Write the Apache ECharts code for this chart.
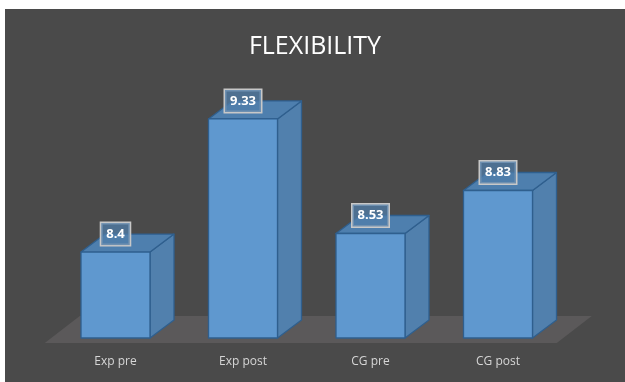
<!DOCTYPE html>
<html><head><meta charset="utf-8">
<script src="https://cdn.jsdelivr.net/npm/echarts@6/dist/echarts.min.js"></script>
<style>
html,body{margin:0;padding:0;background:#ffffff;width:625px;height:382px;overflow:hidden;}
#c{position:absolute;left:5px;top:9px;width:620px;height:373px;}
</style></head>
<body><div id="c"></div>
<script>
const categories = ['Exp pre', 'Exp post', 'CG pre', 'CG post'];
const values = [8.4, 9.33, 8.53, 8.83];
const labels = ['8.4', '9.33', '8.53', '8.83'];

const chart = echarts.init(document.getElementById('c'));
const DX = 24, DY = 18, BW = 69;

function renderFloor(params, api) {
  const cs = params.coordSys;
  const l = cs.x, r = cs.x + cs.width, b = cs.y + cs.height;
  return {
    type: 'polygon', silent: true,
    shape: { points: [[l - 7, b + 5], [l + 28, b - 22], [r + 30, b - 22], [r - 5, b + 5]] },
    style: { fill: '#5b595a' }
  };
}

function renderBar(params, api) {
  const idx = api.value(0);
  const top = api.coord([idx, api.value(1)]);
  const base = api.coord([idx, api.value(2)]);
  const x0 = top[0] - BW / 2, x1 = top[0] + BW / 2;
  const yt = top[1], yb = base[1];
  const edge = { stroke: '#2f5f8e', lineWidth: 1.3, lineJoin: 'round' };
  return {
    type: 'group',
    children: [
      { type: 'polygon', shape: { points: [[x1, yt], [x1 + DX, yt - DY], [x1 + DX, yb - DY], [x1, yb]] },
        style: Object.assign({ fill: '#5180ad' }, edge) },
      { type: 'polygon', shape: { points: [[x0, yt], [x1, yt], [x1 + DX, yt - DY], [x0 + DX, yt - DY]] },
        style: Object.assign({ fill: '#4e7fae' }, edge) },
      { type: 'rect', shape: { x: x0, y: yt, width: BW, height: yb - yt },
        style: Object.assign({ fill: '#5f98cf' }, edge) },
      { type: 'text', x: top[0], y: yt - 18,
        style: { text: labels[params.dataIndex], fill: '#ffffff', font: 'bold 13px "Open Sans", sans-serif',
          align: 'center', verticalAlign: 'middle',
          backgroundColor: 'rgba(80,125,170,0.75)', borderColor: '#c8c8c8', borderWidth: 1.5,
          padding: [5, 5, 4, 5] } }
    ]
  };
}

chart.setOption({
  backgroundColor: '#4a4a4a',
  animation: false,
  title: {
    text: 'FLEXIBILITY', left: 'center', top: 20,
    textStyle: { color: '#ffffff', fontSize: 25, fontWeight: 'normal', fontFamily: '"Open Sans", sans-serif' }
  },
  grid: { left: 46.75, right: 63.25, top: 14, bottom: 44 },
  xAxis: {
    type: 'category', data: categories,
    axisLine: { show: false }, axisTick: { show: false },
    axisLabel: { color: '#d6d6d6', fontSize: 12, margin: 18, fontFamily: '"Open Sans", sans-serif' }
  },
  yAxis: { type: 'value', min: 7.8, max: 10, show: false, splitLine: { show: false } },
  series: [
    { type: 'custom', renderItem: renderFloor, data: [[0]], silent: true, z: 1 },
    { type: 'custom', renderItem: renderBar, z: 2,
      encode: { x: 0, y: 1 },
      data: values.map((v, i) => [i, v, 7.8]) }
  ]
});
</script></body></html>
